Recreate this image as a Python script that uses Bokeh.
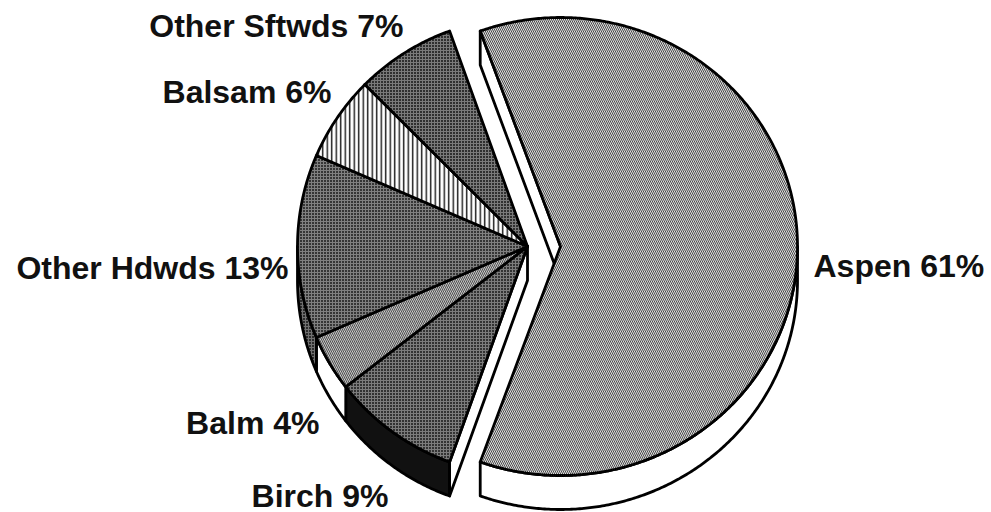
import numpy as np
from bokeh.plotting import figure
from bokeh.models import Range1d
from bokeh.core.properties import value
from bokeh.embed import file_html
from bokeh.resources import INLINE

# ---- data ----
species = ["Aspen", "Birch", "Balm", "Other Hdwds", "Balsam", "Other Sftwds"]
percent = [61, 9, 4, 13, 6, 7]
labels = [f"{s} {v}%" for s, v in zip(species, percent)]

# ---- layout / style ----
W, H = 991, 512
CX, CY = 527, 246          # pie centre (screen pixels)
EXPLODE = 33               # Aspen pulled out to the right
RX = {"Aspen": 237}        # horizontal radius (others use RX_DEFAULT)
RX_DEFAULT = 230
RY = 229
DEPTH = 34
OUT_W = 2.8

top_style = {
    "Aspen": dict(fill_color="#dedede", hatch_pattern="left_diagonal_line", hatch_color="#4a4a4a", hatch_scale=4, hatch_weight=1.0),
    "Birch": dict(fill_color="#333333", hatch_pattern="cross", hatch_color="#7c7c7c", hatch_scale=3, hatch_weight=1),
    "Balm": dict(fill_color="#e4e4e4", hatch_pattern="left_diagonal_line", hatch_color="#4e4e4e", hatch_scale=4, hatch_weight=1.1),
    "Other Hdwds": dict(fill_color="#363636", hatch_pattern="cross", hatch_color="#808080", hatch_scale=3, hatch_weight=1),
    "Balsam": dict(fill_color="#ffffff", hatch_pattern="vertical_line", hatch_color="#111111", hatch_scale=4.5, hatch_weight=1.4),
    "Other Sftwds": dict(fill_color="#303030", hatch_pattern="cross", hatch_color="#7a7a7a", hatch_scale=3, hatch_weight=1),
}
wall_style = {
    "Aspen": dict(fill_color="#ffffff"),
    "Birch": dict(fill_color="#111111"),
    "Balm": dict(fill_color="#ffffff"),
    "Other Hdwds": dict(fill_color="#2c2c2c", hatch_pattern="cross", hatch_color="#707070", hatch_scale=3, hatch_weight=1),
    "Balsam": dict(fill_color="#ffffff"),
    "Other Sftwds": dict(fill_color="#2c2c2c"),
}

# label anchors: (x, cap-centre y, align)
label_pos = {
    "Aspen": (813, 265, "left"),
    "Birch": (388, 495, "right"),
    "Balm": (319, 422, "right"),
    "Other Hdwds": (288, 267, "right"),
    "Balsam": (331, 91, "right"),
    "Other Sftwds": (403, 25, "right"),
}

p = figure(width=W, height=H, output_backend="svg", toolbar_location=None,
           x_range=Range1d(0, W), y_range=Range1d(H, 0),
           x_axis_type=None, y_axis_type=None, min_border=0)
p.grid.visible = False
p.outline_line_color = None
p.background_fill_color = "white"


def arc(cx, cy, rx, ry, t1, t2, dy=0.0):
    ts = np.radians(np.linspace(t1, t2, max(2, int(abs(t2 - t1) * 2) + 2)))
    return list(cx + rx * np.sin(ts)), list(cy + dy - ry * np.cos(ts))


# angles clockwise from top; Aspen centred on the right
start = 90 - percent[0] / 100 * 180
angles = []
a = start
for v in percent:
    angles.append((a, a + v / 100 * 360))
    a += v / 100 * 360

slices = []
for name, (t1, t2) in zip(species, angles):
    mid = np.radians((t1 + t2) / 2)
    if name == "Aspen":
        cx, cy = CX + EXPLODE * np.sin(mid), CY - EXPLODE * np.cos(mid)
    else:
        cx, cy = CX, CY
    slices.append((name, t1, t2, cx, cy, RX.get(name, RX_DEFAULT)))

common = dict(line_color="black", line_width=OUT_W, line_join="round")

# outer walls (visible lower half)
for name, t1, t2, cx, cy, rx in slices:
    lo, hi = max(t1, 90), min(t2, 270)
    if lo < hi:
        xa, ya = arc(cx, cy, rx, RY, lo, hi)
        xb, yb = arc(cx, cy, rx, RY, lo, hi, DEPTH)
        p.patch(xa + xb[::-1], ya + yb[::-1], **wall_style[name], **common)

# visible radial walls: Aspen leading edge, Birch leading edge
for name, t1, t2, cx, cy, rx in slices:
    if name in ("Aspen", "Birch"):
        tt = np.radians(t1)
        ex, ey = cx + rx * np.sin(tt), cy - RY * np.cos(tt)
        p.patch([cx, ex, ex, cx], [cy, ey, ey + DEPTH, cy + DEPTH],
                fill_color="#ffffff", **common)

# top faces
for name, t1, t2, cx, cy, rx in slices:
    xa, ya = arc(cx, cy, rx, RY, t1, t2)
    p.patch([cx] + xa + [cx], [cy] + ya + [cy], **top_style[name], **common)

for name, lab in zip(species, labels):
    x, y, al = label_pos[name]
    p.text(x=[x], y=[y], text=[lab], text_font=value("Liberation Sans"),
           text_font_style="bold", text_font_size="32px", text_color="#111111",
           text_align=al, text_baseline="middle")

open("out.html", "w").write(file_html(p, INLINE))
